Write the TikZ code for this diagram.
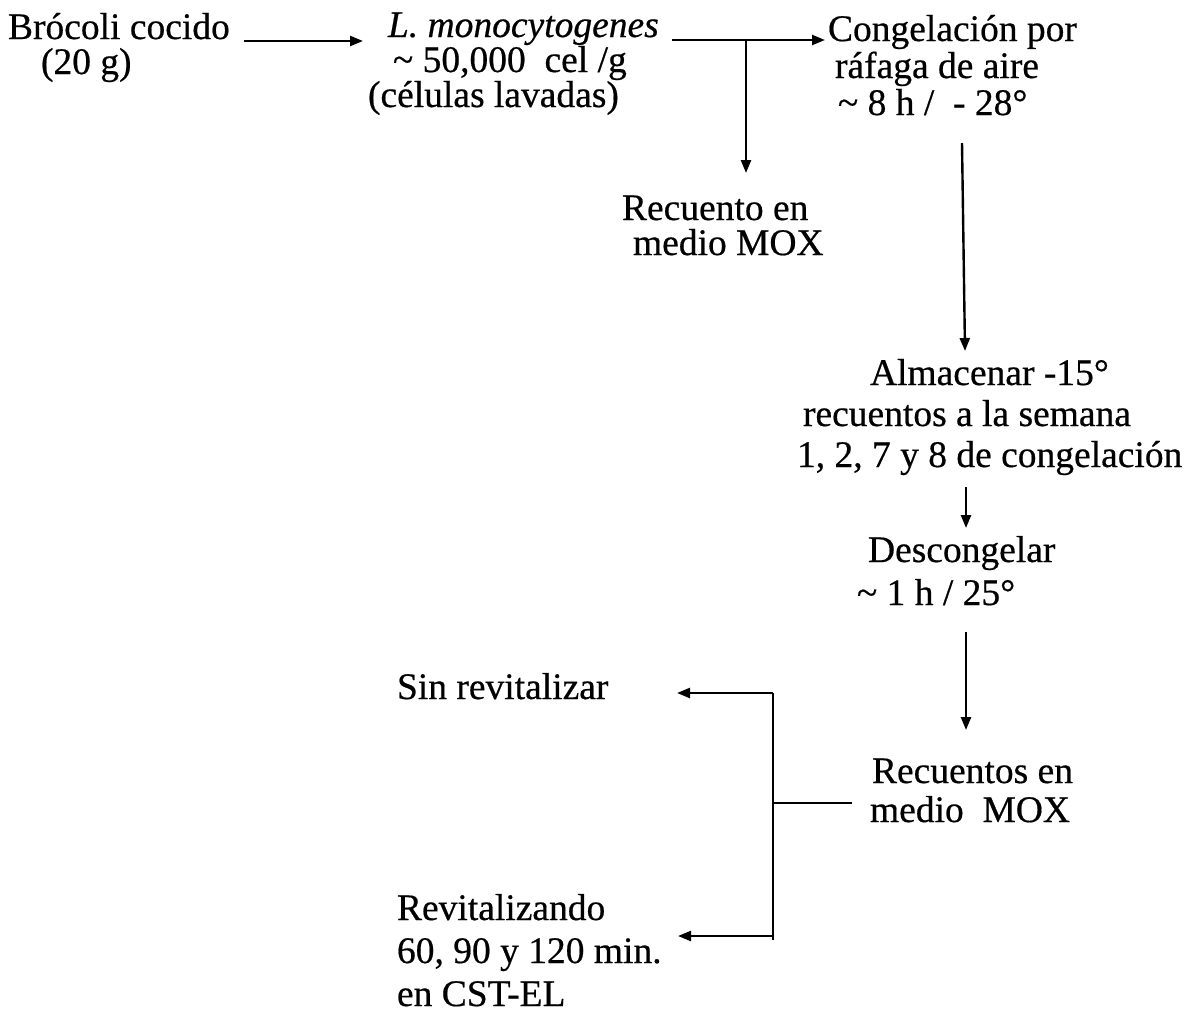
\documentclass[tikz,border=0pt]{standalone}
\usepackage{fontspec}
\setmainfont{Liberation Serif}[FakeBold=0.5]
\usetikzlibrary{arrows.meta}
\newcommand\fsz[1]{\fontsize{37.5}{#1}\selectfont}
\newcommand\stt{\rule{0pt}{28pt}}
\tikzset{
  txt/.style={anchor=north west, inner sep=0pt, outer sep=0pt, align=left},
  conn/.style={line width=2.4pt, line cap=butt},
  arr/.style={conn, -{Triangle[length=13pt,width=10pt]}},
}
\begin{document}
\begin{tikzpicture}[x=1pt,y=-1pt]
\useasboundingbox (0,0) rectangle (1190,1013);
% text blocks
\node[txt, font=\fsz{35}] (B) at (8,11) {\stt Brócoli cocido\\\hspace*{33pt}(20 g)};
\node[txt, font=\fsz{35}] (L) at (368,9) {\stt\hspace*{20pt}\textit{L. monocytogenes}\\\hspace*{25pt}\textasciitilde{} 50,000\ \ cel /g\\(células lavadas)};
\node[txt, font=\fsz{37}] (C) at (828,13) {\stt Congelación por\\\hspace*{7pt}ráfaga de aire\\\hspace*{10pt}\textasciitilde{} 8 h /\ \ - 28°};
\node[txt, font=\fsz{35}] (R) at (622,192) {\stt Recuento en\\\hspace*{11pt}medio MOX};
\node[txt, font=\fsz{41}] (A) at (797,357) {\stt\hspace*{73pt}Almacenar -15°\\\hspace*{6pt}recuentos a la semana\\1, 2, 7 y 8 de congelación};
\node[txt, font=\fsz{43}] (D) at (857,534) {\stt\hspace*{11pt}Descongelar\\\textasciitilde{} 1 h / 25°};
\node[txt, font=\fsz{39}] (M) at (870,755) {\stt\hspace*{2pt}Recuentos en\\medio\ \ MOX};
\node[txt, font=\fsz{43}] (S) at (397,671) {\stt Sin revitalizar};
\node[txt, font=\fsz{43}] (V) at (397,892) {\stt Revitalizando\\60, 90 y 120 min.\\en CST-EL};
% connector points
\coordinate (a1s) at (244,41);
\coordinate (a1e) at (363,41);
\coordinate (a2s) at (672,40);
\coordinate (a2e) at (825,40);
\coordinate (a2j) at (746,40);
\coordinate (a2d) at (746,173);
\coordinate (a3s) at (962,143);
\coordinate (a3e) at (965,351);
\coordinate (a4s) at (966,487);
\coordinate (a4e) at (966,528);
\coordinate (a5s) at (966,632);
\coordinate (a5e) at (966,730);
\coordinate (mj) at (852,803);
\coordinate (bj) at (773,803);
\coordinate (bt) at (773,693);
\coordinate (bb) at (773,940);
\coordinate (bbj) at (773,936);
\coordinate (se) at (677,693);
\coordinate (ve) at (678,936);
% connectors
\draw[arr] (a1s) -- (a1e);
\draw[arr] (a2s) -- (a2e);
\draw[arr] (a2j) -- (a2d);
\draw[arr] (a3s) -- (a3e);
\draw[arr] (a4s) -- (a4e);
\draw[arr] (a5s) -- (a5e);
\draw[conn] (mj) -- (bj);
\draw[conn] (bt) -- (bb);
\draw[arr] (bt) -- (se);
\draw[arr] (bbj) -- (ve);
\end{tikzpicture}
\end{document}
